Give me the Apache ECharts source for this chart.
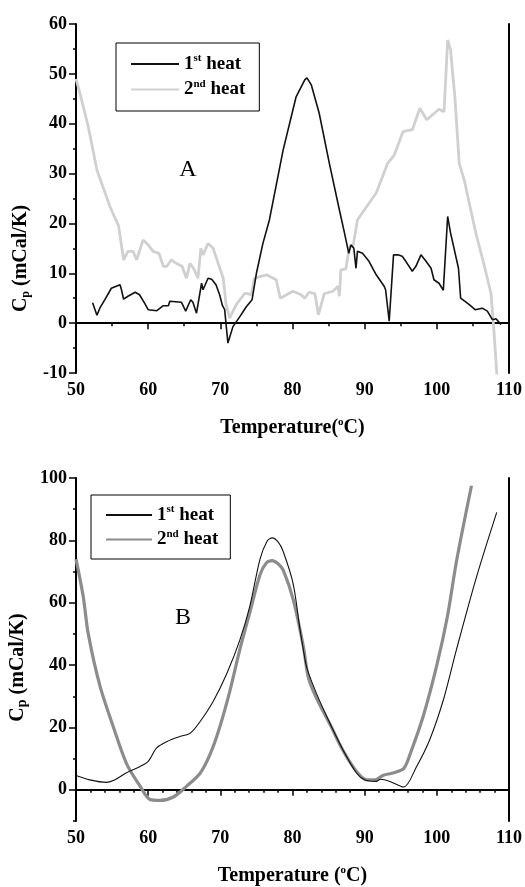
<!DOCTYPE html>
<html>
<head>
<meta charset="utf-8">
<script src="https://cdn.jsdelivr.net/npm/echarts@6/dist/echarts.min.js"></script>
<style>html,body{margin:0;padding:0;background:#fff;}#c{width:525px;height:887px;}</style>
</head>
<body>
<div id="c"></div>
<script>
// ---- Panel A data ----
const tA1 = [52.3,52.9,53.3,54.0,54.9,55.4,56.1,56.3,56.6,57.2,58.2,58.8,59.5,60.0,61.2,62.1,62.8,63.0,64.6,65.2,65.9,66.2,66.7,66.9,67.4,67.6,68.3,68.8,69.4,69.9,70.3,70.6,71.05,71.2,71.75,72.7,73.6,74.4,74.6,75.0,75.9,76.8,78.7,80.5,81.7,82.0,82.6,83.7,85.1,86.5,87.2,87.8,88.1,88.5,88.8,89.0,89.7,90.6,91.6,92.7,92.9,93.4,94.0,94.6,95.2,95.7,96.6,97.1,97.8,98.5,99.2,99.6,100.3,100.9,101.5,101.9,103.0,103.3,104.5,105.3,106.3,107.0,107.7,108.2,108.9];
const cpA1 = [4.1,1.6,3.0,4.7,7.0,7.3,7.7,6.7,4.8,5.4,6.2,5.7,4.0,2.7,2.5,3.5,3.5,4.4,4.2,2.4,4.7,4.2,2.0,1.8,8.0,6.7,9.0,8.8,7.7,5.7,3.5,2.7,-4.0,-3.7,-0.7,1.3,3.3,4.7,4.3,10.0,16.0,20.7,34.7,45.4,48.8,49.2,47.8,42.1,32.1,22.7,18.1,14.0,15.7,15.0,11.0,14.4,14.0,12.4,9.7,7.4,6.7,0.4,13.7,13.7,13.4,12.4,10.4,11.4,13.7,12.4,11.0,8.7,8.0,6.6,21.4,18.1,11.0,5.0,3.7,2.7,3.0,2.4,0.7,0.9,-0.3];
const tA2 = [50.0,50.55,51.7,52.9,54.7,55.9,56.6,57.2,57.9,58.4,59.3,60.0,60.7,61.5,62.1,62.6,63.2,63.9,64.7,65.3,65.8,66.4,66.9,67.3,67.6,68.3,69.0,69.7,70.4,70.8,71.3,72.2,73.4,74.3,74.7,76.4,77.75,78.3,80.05,81.2,81.7,82.3,83.1,83.6,84.4,85.6,86.3,86.5,86.7,87.4,87.9,88.4,89.0,89.95,91.6,93.2,94.1,95.3,96.6,97.65,98.6,100.3,101.0,101.5,101.9,102.5,103.1,103.8,104.7,105.5,106.5,107.5,107.9,108.35];
const cpA2 = [49.0,46.1,39.4,30.7,23.4,19.5,12.7,14.4,14.4,12.7,16.7,15.7,14.4,14.0,11.4,11.4,12.7,12.0,11.4,9.0,12.0,10.7,9.0,15.0,13.7,16.0,15.0,12.0,9.0,3.7,1.0,3.7,6.0,5.7,9.0,9.7,8.7,5.0,6.4,5.7,5.0,6.2,5.9,1.7,5.9,6.4,7.4,5.4,10.7,10.9,15.4,15.5,20.7,22.7,26.1,32.1,33.7,38.4,38.8,43.1,40.8,42.9,42.4,56.8,54.8,45.4,32.1,28.7,22.7,17.5,12.0,6.0,-1.3,-11.0];

// ---- Panel B data ----
const tB1 = [50.0,51.9,54.25,55.4,57.0,58.9,60.0,61.2,62.6,64.4,65.8,67.2,69.0,70.9,72.7,74.1,75.5,76.5,77.2,78.0,78.7,80.1,81.0,81.5,82.0,83.3,85.2,87.0,88.9,90.0,91.6,92.2,93.5,95.4,97.2,99.0,100.9,102.7,105.5,108.3];
const cpB1 = [4.6,3.2,2.4,3.2,5.5,7.5,9.1,13.5,15.5,17.1,18.1,21.9,28.3,37.3,48.0,59.0,74.0,79.8,80.8,79.5,76.5,66.0,52.0,45.0,39.0,31.0,21.3,12.8,5.3,3.2,2.7,3.4,2.7,0.9,7.5,16.0,28.8,44.8,68.3,89.0];
const tB2 = [50.0,51.0,51.7,53.3,55.2,57.0,58.9,60.25,61.6,63.5,65.3,67.2,68.6,69.9,71.3,72.7,74.1,75.5,76.4,77.2,78.0,78.7,80.1,81.5,82.2,83.3,85.2,87.0,88.9,90.3,91.4,92.6,93.9,95.4,96.3,98.1,100.0,101.5,102.7,104.8];
const cpB2 = [74.0,62.0,50.0,33.5,20.0,8.4,1.1,-3.1,-3.4,-2.3,1.1,5.3,11.5,20.0,31.5,45.0,57.0,69.0,72.8,73.5,72.5,70.5,61.0,46.0,36.0,29.5,21.0,12.6,5.8,3.2,3.2,4.7,5.4,6.8,11.5,23.5,40.0,56.0,73.0,97.5];

// ---- axis ticks ----
const xMin = 50, xMax = 110, xStep = 10;
const yMinA = -10, yMaxA = 60, yStepA = 10;
const yMinB = -10, yMaxB = 100, yLabelsB = [0, 20, 40, 60, 80, 100];
const yMinorB = [-10, 10, 30, 50, 70, 90];
const seriesNames = ['1st heat', '2nd heat'];

const zip = (a, b) => a.map((v, i) => [v, b[i]]);
const FF = 'Liberation Serif';
const tickLbl = { fontFamily: FF, fontWeight: 'bold', fontSize: 18, color: '#000' };
const axLine = { show: true, lineStyle: { color: '#000', width: 2 } };

function legendFmt(name) {
  return name.indexOf('1st') >= 0 ? '{n|1}{s|st}{n| heat}' : '{n|2}{s|nd}{n| heat}';
}
const legendRich = {
  n: { fontFamily: FF, fontWeight: 'bold', fontSize: 19, color: '#000', lineHeight: 22 },
  s: { fontFamily: FF, fontWeight: 'bold', fontSize: 11, color: '#000', verticalAlign: 'top', lineHeight: 12 }
};
const hiddenSymbol = { color: 'rgba(0,0,0,0)', borderColor: 'rgba(0,0,0,0)', borderWidth: 0, opacity: 0 };
const xName = '{t|Temperature(}{o|o}{t|C)}';
const xNameB = '{t|Temperature (}{o|o}{t|C)}';
const xNameStyle = { rich: {
  t: { fontFamily: FF, fontWeight: 'bold', fontSize: 20, color: '#000', lineHeight: 22 },
  o: { fontFamily: FF, fontWeight: 'bold', fontSize: 11, color: '#000', verticalAlign: 'top', lineHeight: 12 }
}};

const grids = [
  { left: 76, right: 15, top: 24, height: 349 },
  { left: 76, right: 16, top: 478, height: 343 }
];

const option = {
  animation: false,
  backgroundColor: '#fff',
  grid: grids,
  legend: [
    { data: ['A ' + seriesNames[0], 'A ' + seriesNames[1]], orient: 'vertical', left: 116, top: 43,
      itemWidth: 48, itemHeight: 14, itemGap: 5, padding: [10, 14, 12, 14],
      borderColor: '#000', borderWidth: 1, backgroundColor: '#fff',
      itemStyle: hiddenSymbol,
      formatter: legendFmt, textStyle: { rich: legendRich } },
    { data: ['B ' + seriesNames[0], 'B ' + seriesNames[1]], orient: 'vertical', left: 91, top: 495,
      itemWidth: 46, itemHeight: 14, itemGap: 4, padding: [9, 12, 10, 14],
      borderColor: '#000', borderWidth: 1, backgroundColor: '#fff',
      itemStyle: hiddenSymbol,
      formatter: legendFmt, textStyle: { rich: legendRich } }
  ],
  xAxis: [
    { gridIndex: 0, type: 'value', min: xMin, max: xMax, interval: xStep, position: 'bottom',
      axisLine: axLine, axisTick: { show: true, inside: false, length: 6, lineStyle: { color: '#000', width: 1.5 } },
      minorTick: { show: true, splitNumber: 2, length: 3, lineStyle: { color: '#000', width: 1.5 } },
      splitLine: { show: false }, axisLabel: Object.assign({ margin: 8 }, tickLbl),
      name: xName, nameLocation: 'middle', nameGap: 44, nameTextStyle: xNameStyle },
    { gridIndex: 0, type: 'value', min: xMin, max: xMax, interval: xStep, position: 'top',
      axisLine: axLine, axisTick: { show: true, inside: true, length: 5, lineStyle: { color: '#000', width: 1.5 } },
      minorTick: { show: true, splitNumber: 2, length: 3, lineStyle: { color: '#000', width: 1.5 } },
      splitLine: { show: false }, axisLabel: { show: false } },
    { gridIndex: 1, type: 'value', min: xMin, max: xMax, interval: xStep, position: 'bottom',
      axisLine: axLine, axisTick: { show: true, inside: false, length: 6, lineStyle: { color: '#000', width: 1.5 } },
      minorTick: { show: true, splitNumber: 5, length: 3, lineStyle: { color: '#000', width: 1.5 } },
      splitLine: { show: false }, axisLabel: Object.assign({ margin: 8 }, tickLbl),
      name: xNameB, nameLocation: 'middle', nameGap: 44, nameTextStyle: xNameStyle },
    { gridIndex: 1, type: 'value', min: xMin, max: xMax, interval: xStep, position: 'top',
      axisLine: axLine, axisTick: { show: true, inside: true, length: 5, lineStyle: { color: '#000', width: 1.5 } },
      minorTick: { show: true, splitNumber: 5, length: 3, lineStyle: { color: '#000', width: 1.5 } },
      splitLine: { show: false }, axisLabel: { show: false } }
  ],
  yAxis: [
    { gridIndex: 0, type: 'value', min: yMinA, max: yMaxA, interval: yStepA, position: 'left',
      axisLine: axLine, axisTick: { show: true, inside: false, length: 7, lineStyle: { color: '#000', width: 1.5 } },
      minorTick: { show: true, splitNumber: 2, length: 3, lineStyle: { color: '#000', width: 1.5 } },
      splitLine: { show: false }, axisLabel: Object.assign({ margin: 9 }, tickLbl),
      name: '{c|C}{p|p}{c| (mCal/K)}', nameLocation: 'middle', nameGap: 44,
      nameTextStyle: { padding: [0, 120, 0, 0], rich: {
        c: { fontFamily: FF, fontWeight: 'bold', fontSize: 20, color: '#000', lineHeight: 22 },
        p: { fontFamily: FF, fontWeight: 'bold', fontSize: 12, color: '#000', verticalAlign: 'bottom', lineHeight: 12 } } } },
    { gridIndex: 0, type: 'value', min: yMinA, max: yMaxA, interval: yStepA, position: 'right',
      axisLine: axLine, axisTick: { show: false }, splitLine: { show: false }, axisLabel: { show: false } },
    { gridIndex: 1, type: 'value', min: yMinB, max: yMaxB, position: 'left',
      axisLine: axLine, axisTick: { show: true, inside: false, length: 7, customValues: yLabelsB, lineStyle: { color: '#000', width: 1.5 } },
      splitLine: { show: false }, axisLabel: Object.assign({ margin: 9, customValues: yLabelsB }, tickLbl),
      name: '{c|C}{p|p}{c| (mCal/K)}', nameLocation: 'middle', nameGap: 42,
      nameTextStyle: { padding: [0, 36, 0, 0], rich: {
        c: { fontFamily: FF, fontWeight: 'bold', fontSize: 20, color: '#000', lineHeight: 22 },
        p: { fontFamily: FF, fontWeight: 'bold', fontSize: 14, color: '#000', verticalAlign: 'bottom', lineHeight: 14 } } } },
    { gridIndex: 1, type: 'value', min: yMinB, max: yMaxB, position: 'left',
      axisLine: { show: false }, axisTick: { show: true, inside: false, length: 3, customValues: yMinorB, lineStyle: { color: '#000', width: 1.5 } },
      splitLine: { show: false }, axisLabel: { show: false } },
    { gridIndex: 1, type: 'value', min: yMinB, max: yMaxB, position: 'right',
      axisLine: axLine, axisTick: { show: false }, splitLine: { show: false }, axisLabel: { show: false } }
  ],
  graphic: [
    { type: 'text', x: 188, y: 170, style: { text: 'A', font: '24px "Liberation Serif"', fill: '#000', textAlign: 'center', textVerticalAlign: 'middle' } },
    { type: 'text', x: 183, y: 618, style: { text: 'B', font: '24px "Liberation Serif"', fill: '#000', textAlign: 'center', textVerticalAlign: 'middle' } }
  ],
  series: [
    { name: 'A ' + seriesNames[1], type: 'line', xAxisIndex: 0, yAxisIndex: 0, data: zip(tA2, cpA2),
      symbol: 'none', showSymbol: false, color: '#d0d0d0', lineStyle: { color: '#d0d0d0', width: 2.8 }, clip: true, z: 2 },
    { name: 'A ' + seriesNames[0], type: 'line', xAxisIndex: 0, yAxisIndex: 0, data: zip(tA1, cpA1),
      symbol: 'none', showSymbol: false, color: '#111', lineStyle: { color: '#111', width: 1.6 }, clip: true, z: 3 },
    { name: 'B ' + seriesNames[1], type: 'line', xAxisIndex: 2, yAxisIndex: 2, data: zip(tB2, cpB2),
      symbol: 'none', showSymbol: false, smooth: 0.3, color: '#8c8c8c', lineStyle: { color: '#8c8c8c', width: 3.2 }, clip: true, z: 2 },
    { name: 'B ' + seriesNames[0], type: 'line', xAxisIndex: 2, yAxisIndex: 2, data: zip(tB1, cpB1),
      symbol: 'none', showSymbol: false, smooth: 0.3, color: '#111', lineStyle: { color: '#111', width: 1.1 }, clip: true, z: 3 }
  ]
};

const chart = echarts.init(document.getElementById('c'), null, { renderer: 'canvas' });
chart.setOption(option);
</script>
</body>
</html>
